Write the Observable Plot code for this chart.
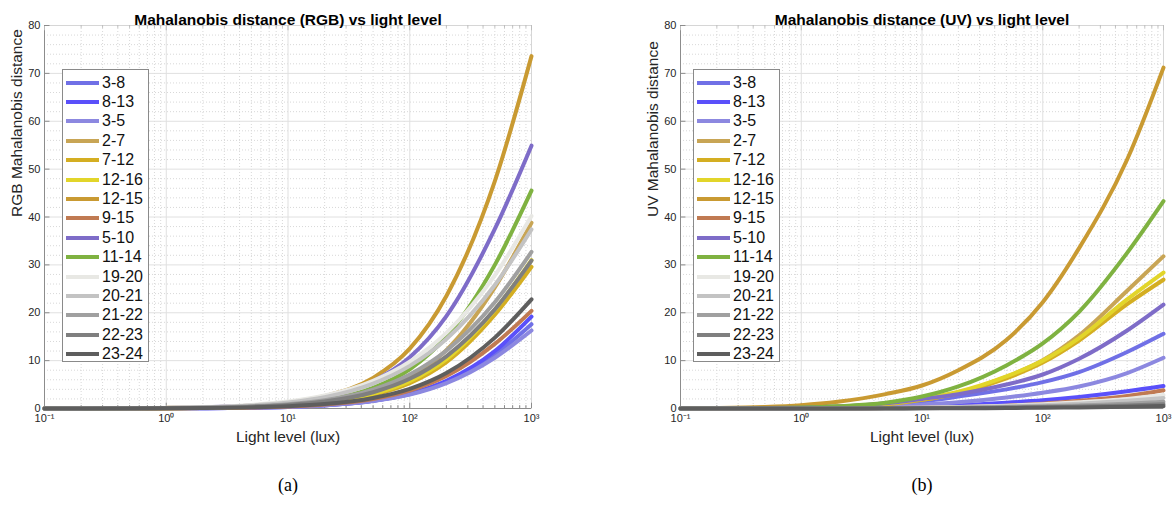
<!DOCTYPE html>
<html>
<head>
<meta charset="utf-8">
<script src="https://cdn.jsdelivr.net/npm/d3@7"></script>
<script src="https://cdn.jsdelivr.net/npm/@observablehq/plot@0.6"></script>
<style>
  html, body { margin: 0; padding: 0; background: #fff; }
  #wrap { position: relative; width: 1176px; height: 506px; overflow: hidden; font-family: "Liberation Sans", Arial, sans-serif; }
  .panel { position: absolute; top: 0; }
  .legend { position: absolute; top: 69px; width: 87px; height: 293px; border: 1px solid #8a8a8a; background: #fff; box-sizing: border-box; padding-top: 3px; }
  .legend .row { height: 19.4px; display: flex; align-items: center; font-size: 16px; color: #111; }
  .legend .sw { width: 33px; height: 4px; margin-left: 3px; margin-right: 3px; }
</style>
</head>
<body>
<div id="wrap"></div>
<script>
// ---------- data ----------
const xs = [0.1, 0.2, 0.5, 1, 2, 5, 10, 20, 50, 100, 200, 500, 1000];
const names = ["3-8", "8-13", "3-5", "2-7", "7-12", "12-16", "12-15", "9-15", "5-10", "11-14", "19-20", "20-21", "21-22", "22-23", "23-24"];
const colors = ["#7070e6", "#5a50fa", "#8c88e0", "#c8a555", "#d4ae22", "#e2d52a", "#c99a32", "#c07a52", "#7e6cc8", "#7fb241", "#e8e8e4", "#c3c3c3", "#a0a0a0", "#7f7f7f", "#5e5e5e"];
const majorXTicks = [0.1, 1, 10, 100, 1000];
const xTickLabels = ["10\u207B\u00B9", "10\u2070", "10\u00B9", "10\u00B2", "10\u00B3"];
const yTicks = [0, 10, 20, 30, 40, 50, 60, 70, 80];

// RGB panel (a)
const rgb_3_8   = [0.003, 0.007, 0.017, 0.034, 0.07, 0.17, 0.33, 0.66, 1.6, 3.0, 5.5, 11.2, 17.6];
const rgb_8_13  = [0.003, 0.007, 0.017, 0.034, 0.07, 0.17, 0.34, 0.67, 1.6, 3.1, 5.8, 12.0, 19.2];
const rgb_3_5   = [0.003, 0.007, 0.017, 0.033, 0.066, 0.165, 0.33, 0.65, 1.55, 2.9, 5.3, 10.6, 16.3];
const rgb_2_7   = [0.007, 0.014, 0.035, 0.07, 0.14, 0.35, 0.7, 1.38, 3.4, 6.5, 12.2, 25.3, 38.8];
const rgb_7_12  = [0.006, 0.012, 0.03, 0.06, 0.12, 0.3, 0.6, 1.17, 2.85, 5.3, 9.7, 19.6, 29.6];
const rgb_12_16 = [0.0065, 0.013, 0.032, 0.065, 0.13, 0.32, 0.64, 1.27, 3.05, 5.7, 10.3, 20.6, 31.0];
const rgb_12_15 = [0.013, 0.026, 0.066, 0.13, 0.26, 0.64, 1.25, 2.6, 6.4, 12.5, 23.5, 47.5, 73.6];
const rgb_9_15  = [0.004, 0.009, 0.021, 0.043, 0.086, 0.21, 0.42, 0.83, 2.0, 3.75, 6.8, 13.5, 20.4];
const rgb_5_10  = [0.012, 0.025, 0.062, 0.123, 0.25, 0.61, 1.2, 2.4, 5.7, 10.7, 19.3, 37.5, 54.9];
const rgb_11_14 = [0.009, 0.018, 0.046, 0.09, 0.18, 0.45, 0.9, 1.78, 4.3, 8.2, 15.0, 30.0, 45.5];
const rgb_19_20 = [0.015, 0.03, 0.075, 0.15, 0.3, 0.75, 1.45, 2.7, 5.8, 9.8, 15.8, 27.8, 40.2];
const rgb_20_21 = [0.013, 0.026, 0.065, 0.13, 0.26, 0.64, 1.25, 2.35, 5.2, 8.9, 14.5, 25.8, 37.4];
const rgb_21_22 = [0.009, 0.018, 0.045, 0.09, 0.18, 0.45, 0.88, 1.72, 3.95, 7.1, 12.1, 22.2, 32.7];
const rgb_22_23 = [0.0075, 0.015, 0.038, 0.076, 0.15, 0.375, 0.74, 1.45, 3.4, 6.2, 10.9, 20.7, 30.9];
const rgb_23_24 = [0.005, 0.0095, 0.024, 0.047, 0.095, 0.235, 0.47, 0.92, 2.2, 4.1, 7.4, 14.8, 22.8];

// UV panel (b)
const uv_3_8   = [0.01, 0.02, 0.06, 0.13, 0.3, 0.8, 1.5, 2.5, 4.0, 5.5, 7.6, 11.8, 15.6];
const uv_8_13  = [0.01, 0.02, 0.04, 0.08, 0.15, 0.3, 0.5, 0.7, 1.2, 1.7, 2.4, 3.6, 4.7];
const uv_3_5   = [0.005, 0.01, 0.03, 0.07, 0.15, 0.4, 0.8, 1.3, 2.3, 3.3, 4.6, 7.4, 10.6];
const uv_2_7   = [0.01, 0.02, 0.06, 0.14, 0.3, 0.85, 1.8, 3.3, 6.6, 10.1, 15.3, 24.6, 31.8];
const uv_7_12  = [0.015, 0.03, 0.08, 0.17, 0.35, 0.9, 1.8, 3.2, 6.3, 9.6, 14.2, 21.8, 26.9];
const uv_12_16 = [0.02, 0.04, 0.09, 0.2, 0.4, 1.0, 2.0, 3.5, 6.7, 10.0, 14.7, 22.8, 28.4];
const uv_12_15 = [0.06, 0.12, 0.33, 0.7, 1.4, 3.0, 4.8, 8.0, 14.3, 22.2, 33.5, 52.0, 71.2];
const uv_9_15  = [0.002, 0.004, 0.01, 0.02, 0.04, 0.09, 0.18, 0.3, 0.6, 1.0, 1.6, 2.6, 3.8];
const uv_5_10  = [0.015, 0.03, 0.08, 0.17, 0.4, 1.1, 2.0, 3.0, 5.0, 7.1, 10.4, 16.3, 21.7];
const uv_11_14 = [0.02, 0.04, 0.1, 0.2, 0.45, 1.2, 2.5, 4.6, 9.0, 13.6, 20.2, 32.5, 43.3];
const uv_19_20 = [0.003, 0.005, 0.01, 0.02, 0.04, 0.1, 0.18, 0.3, 0.6, 0.9, 1.3, 2.0, 2.8];
const uv_20_21 = [0.002, 0.004, 0.008, 0.016, 0.03, 0.08, 0.14, 0.24, 0.47, 0.7, 1.0, 1.6, 2.2];
const uv_21_22 = [0.001, 0.003, 0.005, 0.01, 0.02, 0.05, 0.09, 0.15, 0.3, 0.45, 0.65, 1.0, 1.4];
const uv_22_23 = [0.001, 0.002, 0.003, 0.006, 0.013, 0.03, 0.06, 0.1, 0.19, 0.29, 0.42, 0.65, 0.9];
const uv_23_24 = [0.0005, 0.001, 0.002, 0.004, 0.007, 0.02, 0.03, 0.05, 0.1, 0.16, 0.23, 0.36, 0.5];

const rgbRows = [rgb_3_8, rgb_8_13, rgb_3_5, rgb_2_7, rgb_7_12, rgb_12_16, rgb_12_15, rgb_9_15, rgb_5_10, rgb_11_14, rgb_19_20, rgb_20_21, rgb_21_22, rgb_22_23, rgb_23_24];
const uvRows = [uv_3_8, uv_8_13, uv_3_5, uv_2_7, uv_7_12, uv_12_16, uv_12_15, uv_9_15, uv_5_10, uv_11_14, uv_19_20, uv_20_21, uv_21_22, uv_22_23, uv_23_24];

// ---------- drawing ----------
const minorX = [];
for (let e = -1; e < 3; e++) for (let k = 2; k <= 9; k++) minorX.push(k * Math.pow(10, e));
const minorY = d3.range(0, 81, 2).filter(v => v % 10 !== 0);

function panel(rows, title, ylabel, caption, ml, mr) {
  const marks = [
    Plot.ruleX(minorX, {x: d => d, stroke: "#d8d8d8", strokeDasharray: "1,2"}),
    Plot.ruleY(minorY, {y: d => d, stroke: "#d8d8d8", strokeDasharray: "1,2"}),
    Plot.ruleX(majorXTicks, {x: d => d, stroke: "#e0e0e0"}),
    Plot.ruleY(yTicks, {y: d => d, stroke: "#e0e0e0"}),
    Plot.frame({stroke: "#d6d6d6"}),
    Plot.ruleY([0], {stroke: "#8c8c8c"}),
    Plot.ruleX([0.1], {stroke: "#8c8c8c"}),
    // inward ticks (bottom / top / left)
    Plot.ruleX(majorXTicks, {x: d => d, y1: 0, y2: 1.1, stroke: "#8c8c8c"}),
    Plot.ruleX(minorX, {x: d => d, y1: 0, y2: 0.6, stroke: "#8c8c8c"}),
    Plot.ruleX(majorXTicks, {x: d => d, y1: 80, y2: 78.9, stroke: "#bdbdbd"}),
    Plot.ruleX(minorX, {x: d => d, y1: 80, y2: 79.4, stroke: "#bdbdbd"}),
    Plot.ruleY(yTicks, {y: d => d, x1: 0.1, x2: 0.1 * Math.pow(10, 0.045), stroke: "#8c8c8c"})
  ];
  rows.forEach((vals, i) => {
    const pts = xs.map((x, j) => ({x, y: vals[j]}));
    marks.push(Plot.line(pts, {x: "x", y: "y", stroke: colors[i], strokeWidth: 4, curve: "monotone-x"}));
  });
  marks.push(
    Plot.axisX(majorXTicks, {tickSize: 0, tickPadding: 6, tickFormat: d => xTickLabels[majorXTicks.indexOf(d)], fill: "#262626", label: null}),
    Plot.axisY(yTicks, {tickSize: 0, tickPadding: 4, fill: "#262626", label: null}),
    Plot.text([title], {frameAnchor: "top", dy: -12, fontWeight: "bold", fontSize: 15.5, fill: "#000"}),
    Plot.text([ylabel], {frameAnchor: "left", dx: -27, rotate: -90, fontSize: 15.5, fill: "#262626"}),
    Plot.text(["Light level (lux)"], {frameAnchor: "bottom", dy: 33, fontSize: 15.5, fill: "#262626"}),
    Plot.text([caption], {frameAnchor: "bottom", dy: 82, fontSize: 18, fill: "#000", fontFamily: "Liberation Serif, Times New Roman, serif"})
  );
  return Plot.plot({
    width: 588, height: 506,
    marginLeft: ml, marginRight: mr, marginTop: 25, marginBottom: 98,
    style: {fontFamily: "Liberation Sans, Arial, sans-serif", fontSize: "11px", background: "transparent"},
    x: {type: "log", domain: [0.1, 1000]},
    y: {domain: [0, 80]},
    marks
  });
}

function legend(left) {
  const box = document.createElement("div");
  box.className = "legend";
  box.style.left = left + "px";
  names.forEach((n, i) => {
    const row = document.createElement("div");
    row.className = "row";
    const sw = document.createElement("div");
    sw.className = "sw";
    sw.style.background = colors[i];
    const t = document.createElement("span");
    t.textContent = n;
    row.appendChild(sw); row.appendChild(t);
    box.appendChild(row);
  });
  return box;
}

const wrap = document.getElementById("wrap");
const pa = panel(rgbRows, "Mahalanobis distance (RGB) vs light level", "RGB Mahalanobis distance", "(a)", 44, 57);
pa.classList.add("panel"); pa.style.left = "0px";
const pb = panel(uvRows, "Mahalanobis distance (UV) vs light level", "UV Mahalanobis distance", "(b)", 92, 13);
pb.classList.add("panel"); pb.style.left = "588px";
wrap.appendChild(pa);
wrap.appendChild(pb);
wrap.appendChild(legend(62));
wrap.appendChild(legend(693));
</script>
</body>
</html>
